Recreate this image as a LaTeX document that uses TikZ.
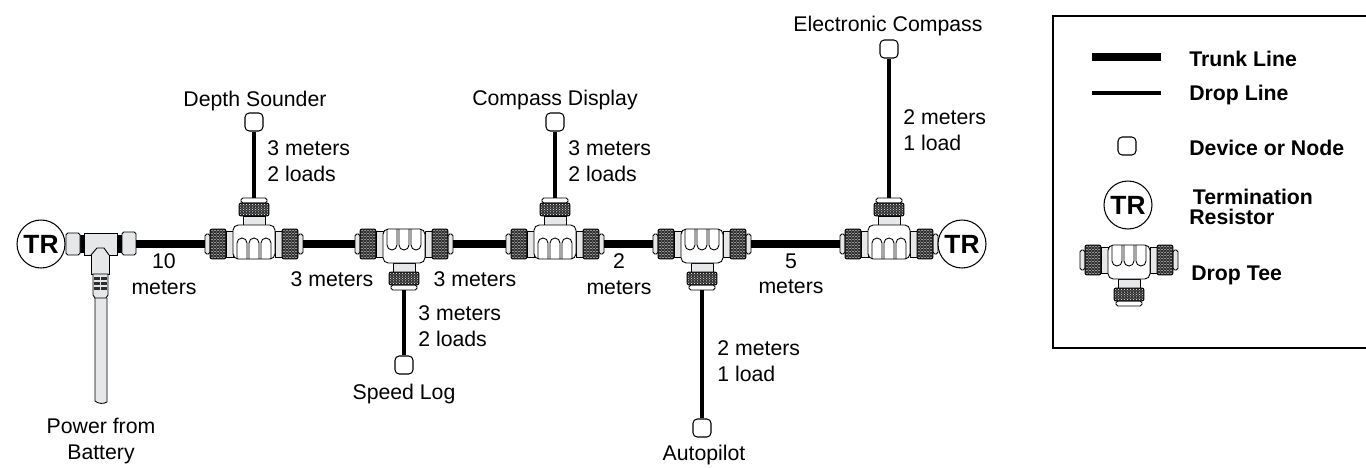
\documentclass[tikz,border=0pt]{standalone}
\usepackage{fontspec}
\setmainfont{Liberation Sans}
\usetikzlibrary{positioning,calc}
\definecolor{ink}{HTML}{000000}
\definecolor{shell}{HTML}{E6E7E8}
\definecolor{knurl}{HTML}{2E2E2E}
\tikzset{
  trunkline/.style={draw=ink, line width=8.6*0.5669pt},
  dropline/.style={draw=ink, line width=4.7*0.5669pt},
  device/.style={draw=ink, fill=white, rounded corners=2.4pt, line width=0.6pt,
                 minimum width=0.36cm, minimum height=0.36cm, inner sep=0pt},
  resistor/.style={draw=ink, fill=white, circle, line width=0.6pt, minimum size=0.96cm,
                   inner sep=0pt, font=\fontsize{15}{16}\selectfont\bfseries},
  lab/.style={font=\fontsize{12.1}{14.5}\selectfont, align=center, inner sep=0pt},
  distlab/.style={lab, align=left, anchor=west},
  leglab/.style={font=\fontsize{12.1}{11.5}\selectfont\bfseries, align=left, inner sep=0pt, anchor=west},
  part/.style={draw=ink, fill=white, line width=0.5pt},
  greypart/.style={draw=ink, fill=shell, line width=0.5pt},
  knurlblock/.pic={
    \fill[knurl] (-8,-15) rectangle (8,15);
    \foreach \i in {-6,-3,0,3,6} {
      \foreach \j in {-13.5,-10.5,...,13.5} {
        \fill[white] (\i,\j) circle (0.55);
      }
    }
    \foreach \i in {-4.5,-1.5,1.5,4.5} {
      \foreach \j in {-12,-9,...,12} {
        \fill[white] (\i,\j) circle (0.45);
      }
    }
    \draw[ink,line width=0.5pt,rounded corners=1pt] (-8,-15) rectangle (8,15);
  },
  droptee/.pic={
    % side caps
    \draw[greypart,rounded corners=1pt] (-49,-10) rectangle (-44,10);
    \draw[greypart,rounded corners=1pt] (44,-10) rectangle (49,10);
    \draw[greypart] (-28,-13) rectangle (-21,13);
    \draw[greypart] (21,-13) rectangle (28,13);
    \pic at (-36,0) {knurlblock};
    \pic at (36,0) {knurlblock};
    % neck and top coupling
    \draw[greypart] (-11,-28) rectangle (11,-19);
    \draw[part,rounded corners=1pt] (-13,-46) rectangle (13,-41);
    \pic[rotate=90,xscale=0.81] at (0,-34.5) {knurlblock};
    % body with fingers
    \draw[part,rounded corners=3pt] (-21,-19) -- (21,-19) -- (21,15) -- (-21,15) -- cycle;
    \foreach \x in {-12,0,12} {
      \draw[ink,line width=0.5pt] (\x-5,15) -- (\x-5,-1) arc[start angle=180,end angle=360,radius=5] -- (\x+5,15);
    }
    \coordinate (-west) at (-49,0);
    \coordinate (-east) at (49,0);
    \coordinate (-port) at (0,-46);
  },
}
\begin{document}
\begin{tikzpicture}[x=0.02cm,y=-0.02cm]
  \useasboundingbox (0,0) rectangle (1366,467);

  % power tee at the left end
  \node[resistor] (trL) at (41,244) {TR};
  \fill[ink] (80,235) rectangle (122,253);
  \draw[greypart,rounded corners=1pt] (66,233) rectangle (80,255);
  \draw[greypart,rounded corners=1pt] (122,232) rectangle (136,255);
  \draw[greypart] (95,298) -- (95,401) .. controls (98,404) and (104,404) .. (107,402) -- (107,298);
  \draw[greypart] (84,233) -- (117,233) -- (117,255) -- (109,255) -- (109,274) -- (91,274) -- (91,255) -- (84,255) -- cycle;
  \draw[ink,line width=0.5pt] (91,255) -- (97,248) -- (104,248) -- (109,255);
  \draw[greypart] (93,274) -- (108,274) -- (108,295) -- (106,298) -- (95,298) -- (93,295) -- cycle;
  \foreach \y in {277,282,287} {
    \foreach \x in {94,101} {\fill[knurl] (\x,\y) rectangle ++(6,3.4);}
  }
  \coordinate (powerEast) at (136,244);

  % tees on the trunk
  \pic (teeA) at (254,244) {droptee};
  \pic[yscale=-1] (teeB) at (404,244) {droptee};
  \pic (teeC) at (555,244) {droptee};
  \pic[yscale=-1] (teeD) at (702,244) {droptee};
  \pic (teeE) at (889,244) {droptee};
  \node[resistor] (trR) at (962,244) {TR};

  % trunk
  \draw[trunkline] (powerEast) -- (teeA-west);
  \draw[trunkline] (teeA-east) -- (teeB-west);
  \draw[trunkline] (teeB-east) -- (teeC-west);
  \draw[trunkline] (teeC-east) -- (teeD-west);
  \draw[trunkline] (teeD-east) -- (teeE-west);

  % devices and drops
  \node[device] (depth) at (254,122) {};
  \node[device] (speed) at (404,365) {};
  \node[device] (display) at (555,122) {};
  \node[device] (auto) at (702,428) {};
  \node[device] (ecomp) at (889,49) {};
  \draw[dropline] (depth.south) -- (teeA-port);
  \draw[dropline] (speed.north) -- (teeB-port);
  \draw[dropline] (display.south) -- (teeC-port);
  \draw[dropline] (auto.north) -- (teeD-port);
  \draw[dropline] (ecomp.south) -- (teeE-port);

  % device names
  \node[lab] (depthName) at (255,101) {Depth Sounder};
  \node[lab] (speedName) at (404,394) {Speed Log};
  \node[lab] (displayName) at (555,100) {Compass Display};
  \node[lab] (autoName) at (704,455) {Autopilot};
  \node[lab] (ecompName) at (888,26) {Electronic Compass};
  \node[lab] (powerName) at (101,441) {Power from\\Battery};

  % lengths
  \node[distlab] at (267,161) {3 meters\\2 loads};
  \node[distlab] at (418,326) {3 meters\\2 loads};
  \node[distlab] at (568,161) {3 meters\\2 loads};
  \node[distlab] at (717,361) {2 meters\\1 load};
  \node[distlab] at (903,130) {2 meters\\1 load};
  \node[lab] at (164,274) {10\\meters};
  \node[lab] at (332,279) {3 meters};
  \node[lab] at (475,279) {3 meters};
  \node[lab] at (619,274) {2\\meters};
  \node[lab] at (791,274) {5\\meters};

  % legend
  \draw[ink,line width=1.1pt] (1053,16) rectangle (1367,348);
  \coordinate (trunkA) at (1092,57);
  \coordinate (trunkB) at (1161,57);
  \coordinate (dropA) at (1092,93);
  \coordinate (dropB) at (1161,93);
  \draw[trunkline] (trunkA) -- (trunkB);
  \draw[dropline] (dropA) -- (dropB);
  \node[device] (legDevice) at (1127,146) {};
  \node[resistor] (legTR) at (1128,205) {TR};
  \pic[yscale=-1] (legTee) at (1129,260) {droptee};
  \node[leglab] at (1189,59) {Trunk Line};
  \node[leglab] at (1189,95) {Drop Line};
  \node[leglab] at (1189,148) {Device or Node};
  \node[leglab] at (1189,207) {\hspace*{2pt}Termination\\Resistor};
  \node[leglab] at (1191,275) {Drop Tee};
\end{tikzpicture}
\end{document}
